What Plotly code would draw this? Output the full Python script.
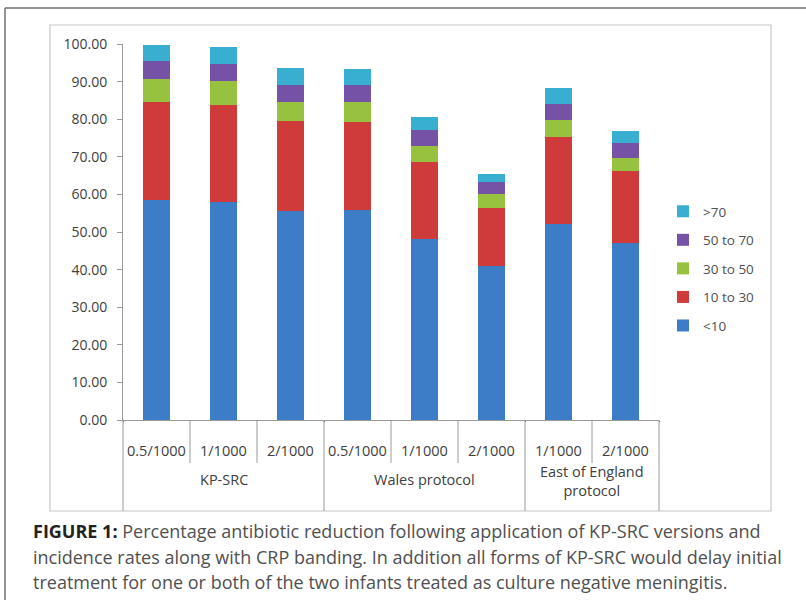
import plotly.graph_objects as go

# ---------------- data ----------------
groups = ["KP-SRC", "KP-SRC", "KP-SRC",
          "Wales protocol", "Wales protocol", "Wales protocol",
          "East of England<br>protocol", "East of England<br>protocol"]
rates = ["0.5/1000", "1/1000", "2/1000",
         "0.5/1000", "1/1000", "2/1000",
         "1/1000", "2/1000"]

band_lt10 = [58.5, 57.9, 55.7, 55.9, 48.1, 41.0, 52.1, 47.2]
band_10_30 = [26.2, 26.0, 23.7, 23.3, 20.6, 15.5, 23.1, 18.9]
band_30_50 = [6.0, 6.2, 5.3, 5.5, 4.3, 3.6, 4.6, 3.7]
band_50_70 = [4.7, 4.6, 4.4, 4.4, 4.0, 3.1, 4.2, 4.0]
band_gt70 = [4.3, 4.4, 4.5, 4.3, 3.5, 2.2, 4.3, 3.1]

series_names = ["<10", "10 to 30", "30 to 50", "50 to 70", ">70"]
series_values = [band_lt10, band_10_30, band_30_50, band_50_70, band_gt70]
series_colors = ["#3D7DC8", "#CF3B3B", "#97C23F", "#7652A6", "#38AED0"]

y_ticks = [0, 10, 20, 30, 40, 50, 60, 70, 80, 90, 100]

caption_lines = [
    "<b><span style='color:#222222'>FIGURE 1:</span></b> Percentage antibiotic reduction following application of KP-SRC versions and",
    "incidence rates along with CRP banding. In addition all forms of KP-SRC would delay initial",
    "treatment for one or both of the two infants treated as culture negative meningitis.",
]

# ---------------- layout geometry (pixels) ----------------
W, H = 806, 600
L, R, T, B = 123, 659, 44, 420   # plot area


def px(x):
    return (x - L) / (R - L)


def py(y):
    return (B - y) / (B - T)


fig = go.Figure()
nser = len(series_names)
for i, (name, vals, col) in enumerate(zip(series_names, series_values, series_colors)):
    fig.add_trace(go.Bar(
        x=[groups, rates], y=vals, name=name, legendgroup=name,
        legendrank=nser - i,
        marker=dict(color=col, line=dict(width=0)),
    ))

shapes = []
# outer page frame (top + left)
shapes.append(dict(type="line", xref="paper", yref="paper",
                   x0=px(5), x1=px(806), y0=py(8), y1=py(8),
                   line=dict(color="#6f6f6f", width=1.5), layer="below"))
shapes.append(dict(type="line", xref="paper", yref="paper",
                   x0=px(5), x1=px(5), y0=py(8), y1=py(600),
                   line=dict(color="#6f6f6f", width=1.5), layer="below"))
# chart box
shapes.append(dict(type="rect", xref="paper", yref="paper",
                   x0=px(50), x1=px(771), y0=py(511), y1=py(25),
                   line=dict(color="#c8c8c8", width=1.2), layer="below"))

# category dividers and labels
n = len(rates)
annotations = []
lab_font = dict(family="Open Sans", size=14.5, color="#404040")
for k in range(n + 1):
    long_div = (k == 0 or k == n or groups[k] != groups[k - 1])
    shapes.append(dict(type="line", xref="paper", yref="paper",
                       x0=k / n, x1=k / n, y0=0, y1=py(511) if long_div else py(463),
                       line=dict(color="#9a9a9a", width=1)))
for i, r in enumerate(rates):
    annotations.append(dict(xref="paper", yref="paper", x=(i + 0.5) / n, y=py(450),
                            text=r, showarrow=False, xanchor="center", yanchor="middle",
                            font=lab_font))
# group labels
start = 0
for k in range(1, n + 1):
    if k == n or groups[k] != groups[start]:
        g = groups[start]
        two = "<br>" in g
        annotations.append(dict(xref="paper", yref="paper", x=(start + k) / 2 / n,
                                y=py(481 if two else 479),
                                text=g, showarrow=False, xanchor="center", yanchor="middle",
                                font=lab_font))
        start = k

for j, line in enumerate(caption_lines):
    annotations.append(dict(xref="paper", yref="paper", x=px(31), y=py(531 + 25.5 * j),
                            text=line, showarrow=False, xanchor="left", yanchor="middle",
                            align="left",
                            font=dict(family="Open Sans", size=18, color="#505050")))

fig.update_layout(
    width=W, height=H,
    margin=dict(l=L, r=W - R, t=T, b=H - B, autoexpand=False),
    paper_bgcolor="white", plot_bgcolor="white",
    barmode="stack", bargap=0.61,
    showlegend=True,
    legend=dict(x=px(663), y=py(196), xanchor="left", yanchor="top",
                traceorder="grouped", tracegroupgap=8,
                font=dict(family="Open Sans", size=13.5, color="#505050"),
                bgcolor="rgba(0,0,0,0)"),
    xaxis=dict(showticklabels=False, ticks="", showline=True, linecolor="#9a9a9a",
               linewidth=1, showgrid=False, zeroline=False),
    yaxis=dict(range=[0, 100], tickvals=y_ticks, tickformat=".2f",
               ticks="outside", ticklen=5, tickcolor="#9a9a9a",
               ticklabelstandoff=7,
               showline=True, linecolor="#9a9a9a", linewidth=1,
               showgrid=False, zeroline=False,
               tickfont=dict(family="Open Sans", size=14, color="#404040")),
    shapes=shapes, annotations=annotations,
)

fig.write_html("out.html", config={"displayModeBar": False},
               post_script="document.body.style.margin='0';")
